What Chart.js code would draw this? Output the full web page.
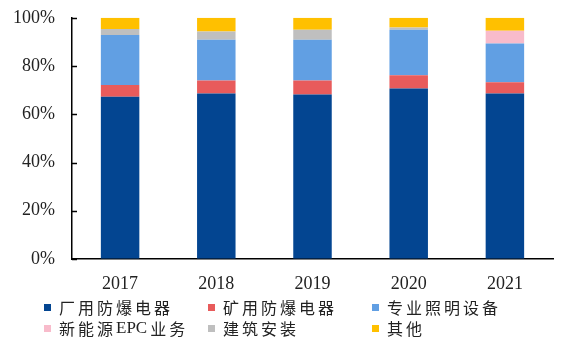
<!DOCTYPE html>
<html>
<head>
<meta charset="utf-8">
<script src="https://cdn.jsdelivr.net/npm/chart.js@4/dist/chart.umd.min.js"></script>
<style>
  body { margin: 0; background: #fff; width: 569px; height: 348px; overflow: hidden; position: relative; }
  #wrap { position: absolute; left: 0; top: 0; width: 569px; height: 300px; }
  #legend { position: absolute; left: 0; top: 0; }
  .item { position: absolute; display: flex; align-items: center; height: 20px; font-family: "Liberation Serif", "Noto Sans CJK SC", serif; font-size: 16px; letter-spacing: 3px; color: #222; white-space: nowrap; }
  .item span.box { display: inline-block; width: 7px; height: 7px; margin-right: 8px; }
  .item b { font-weight: normal; font-size: 17px; letter-spacing: 0; margin-right: 3px; }
</style>
</head>
<body>
<div id="wrap"><canvas id="myChart" width="569" height="300"></canvas></div>
<div id="legend"></div>
<script>
var years = ['2017', '2018', '2019', '2020', '2021'];
var factoryExplosion = [67.3, 68.6, 68.2, 70.7, 68.6];
var mineExplosion = [4.8, 5.4, 5.8, 5.5, 4.7];
var lighting = [20.8, 16.9, 16.9, 18.8, 16.0];
var newEnergyEPC = [0, 0, 0, 0, 5.3];
var construction = [2.5, 3.4, 4.1, 1.0, 0];
var others = [4.6, 5.7, 5.0, 4.0, 5.4];
var yTicks = [0, 20, 40, 60, 80, 100];

var names = ['厂用防爆电器', '矿用防爆电器', '专业照明设备', '新能源EPC业务', '建筑安装', '其他'];
var colors = ['#034591', '#E85B5B', '#619FE3', '#F8BBCB', '#BFBFBF', '#FFC000'];
var series = [factoryExplosion, mineExplosion, lighting, newEnergyEPC, construction, others];

var data = {
    labels: years,
    datasets: series.map(function(s, i) {
        return {
            label: names[i],
            data: s,
            backgroundColor: colors[i],
            borderWidth: 0,
            barPercentage: 0.5,
            categoryPercentage: 0.8
        };
    })
};

// y-axis ticks pointing inward
var innerTicks = {
    id: 'innerTicks',
    afterDraw: function(chart) {
        var ctx = chart.ctx;
        var y = chart.scales.y;
        var left = chart.chartArea.left;
        ctx.save();
        ctx.strokeStyle = '#000';
        ctx.lineWidth = 1.5;
        yTicks.forEach(function(v) {
            var py = Math.round(y.getPixelForValue(v)) + 0.5;
            ctx.beginPath();
            ctx.moveTo(left, py);
            ctx.lineTo(left + 5, py);
            ctx.stroke();
        });
        ctx.restore();
    }
};

var serif = '"Liberation Serif", "Times New Roman", serif';

var ctx = document.getElementById('myChart').getContext('2d');
var myChart = new Chart(ctx, {
    type: 'bar',
    data: data,
    plugins: [innerTicks],
    options: {
        responsive: false,
        animation: false,
        layout: { padding: { left: 0, right: 16, top: 0, bottom: 0 } },
        plugins: {
            legend: { display: false },
            tooltip: { enabled: false }
        },
        scales: {
            x: {
                stacked: true,
                grid: { display: false, drawTicks: false },
                border: { display: true, color: '#000', width: 1.5 },
                ticks: { color: '#222', font: { family: serif, size: 18 }, padding: 14 },
                afterFit: function(s) { s.height = 41; }
            },
            y: {
                stacked: true,
                min: 0,
                max: 100,
                grid: { display: true, drawOnChartArea: false, drawTicks: true, tickLength: 10, tickColor: 'rgba(0,0,0,0)' },
                border: { display: true, color: '#000', width: 1.5 },
                afterBuildTicks: function(s) { s.ticks = yTicks.map(function(v) { return { value: v }; }); },
                ticks: {
                    color: '#222',
                    font: { family: serif, size: 18 },
                    padding: 7,
                    callback: function(v) { return v + '%'; }
                },
                afterFit: function(s) { s.width = 72; }
            }
        }
    }
});

var legendDiv = document.getElementById('legend');
var pos = [[44, 307], [208, 307], [372, 307], [44, 328], [208, 328], [372, 328]];
names.forEach(function(label, i) {
    var el = document.createElement('div');
    el.className = 'item';
    el.style.left = pos[i][0] + 'px';
    el.style.top = (pos[i][1] - 10) + 'px';
    var text = label.replace(/([A-Za-z]+)/g, '<b>$1</b>');
    el.innerHTML = '<span class="box" style="background-color:' + colors[i] + '"></span>' + text;
    legendDiv.appendChild(el);
});
</script>
</body>
</html>
